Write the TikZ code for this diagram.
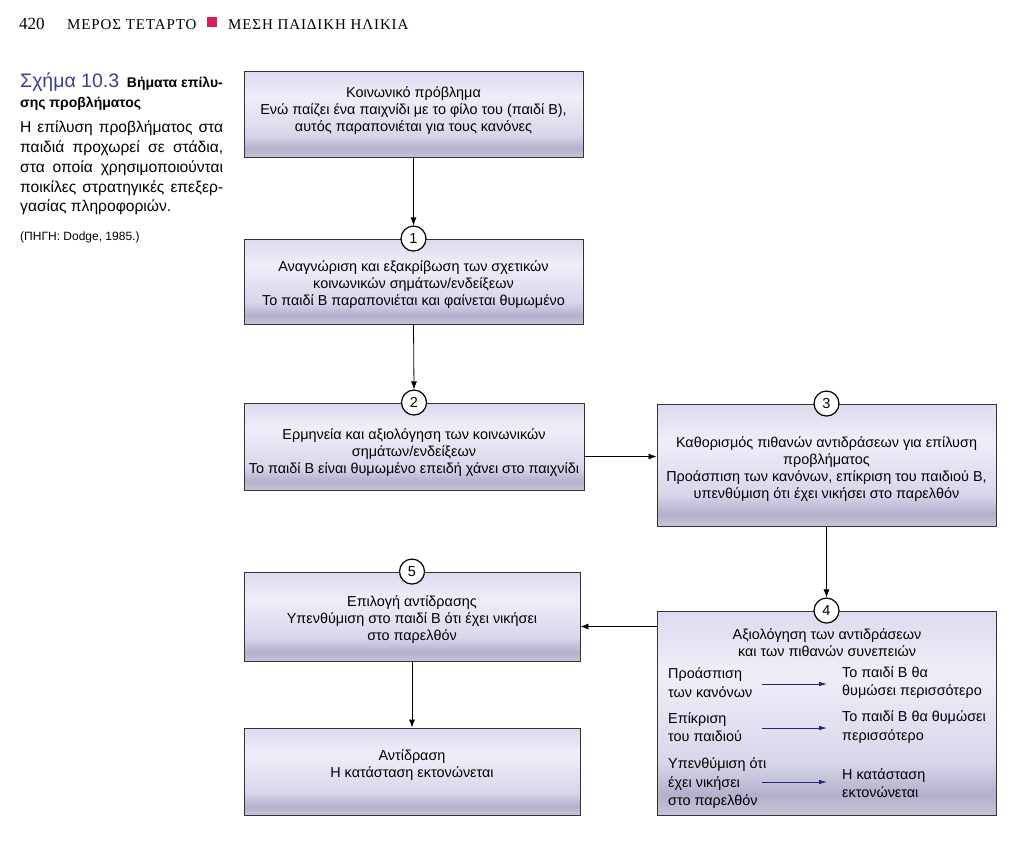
\documentclass[tikz,border=0pt]{standalone}
\usepackage{fontspec}
\setmainfont{Liberation Serif}
\setsansfont{Liberation Sans}
\usetikzlibrary{arrows.meta}

\definecolor{stagetop}{HTML}{DCDAEE}
\definecolor{stagelight}{HTML}{EFEEF8}
\definecolor{stagemid}{HTML}{D8D6EA}
\definecolor{stagedark}{HTML}{B3B0CB}
\definecolor{stagebot}{HTML}{C6C4D8}
\definecolor{figblue}{HTML}{3B3F98}
\definecolor{innerblue}{HTML}{1F2A6E}
\definecolor{headred}{HTML}{D61F5A}

\pgfdeclareverticalshading{stagefill}{100bp}{color(0bp)=(stagebot); color(25bp)=(stagebot);
  color(30bp)=(stagedark); color(38bp)=(stagemid); color(60bp)=(stagelight); color(75bp)=(stagetop); color(100bp)=(stagetop)}

\newcommand\boxfont{\sffamily\fontsize{14.4}{17}\selectfont}
\newcommand\headfont{\fontsize{15}{15}\selectfont\addfontfeatures{LetterSpace=6}}
\newcommand\jline[1]{\hbox to 203pt{#1}}

\tikzset{
  stage/.style={draw=black!80, line width=0.9pt, shading=stagefill, inner sep=0pt},
  stagetext/.style={align=center, inner sep=0pt, font=\boxfont},
  num/.style={circle, draw, line width=1.2pt, fill=white, minimum size=25pt, inner sep=0pt,
    font=\sffamily\fontsize{14.5}{14.5}\selectfont},
  flow/.style={-{Latex[length=8pt,width=6pt]}, line width=0.8pt},
  pick/.style={-{Latex[length=8pt,width=4.5pt]}, line width=0.8pt, innerblue},
  side/.style={anchor=west, align=left, inner sep=3pt, font=\sffamily\fontsize{14.4}{18.5}\selectfont}
}

\begin{document}
\begin{tikzpicture}[x=1pt,y=-1pt]
  % Page
  \useasboundingbox (0,0) rectangle (1024,852);
  \fill[white] (0,0) rectangle (1024,852);

  % Running head
  \node[anchor=base west, inner sep=0pt, font=\fontsize{17}{17}\selectfont] (page) at (19,29) {420};
  \node[anchor=base west, inner sep=0pt, font=\headfont] (part) at (67,29) {ΜΕΡΟΣ ΤΕΤΑΡΤΟ};
  \fill[headred] (207,17) rectangle (217,27);
  \node[anchor=base west, inner sep=0pt, font=\headfont] (chap) at (228,29) {ΜΕΣΗ ΠΑΙΔΙΚΗ ΗΛΙΚΙΑ};

  % Caption
  \node[anchor=base west, inner sep=0pt, align=left, font=\sffamily\fontsize{14}{20}\selectfont\bfseries] (cap) at (20,107)
    {{\color{figblue}\mdseries\fontsize{19.5}{19.5}\selectfont Σχήμα 10.3}\ \ Βήματα επίλυ-\\σης προβλήματος};
  \node[anchor=north west, inner sep=0pt, align=left, font=\sffamily\fontsize{15.6}{19.7}\selectfont] (capbody) at (20,121)
    {\jline{Η επίλυση προβλήματος στα}\\
     \jline{παιδιά προχωρεί σε στάδια,}\\
     \jline{στα οποία χρησιμοποιούνται}\\
     \jline{ποικίλες στρατηγικές επεξερ-}\\
     γασίας πληροφοριών.};
  \node[anchor=base west, inner sep=0pt, font=\sffamily\fontsize{12}{12}\selectfont] (src) at (20,240) {(ΠΗΓΗ: Dodge, 1985.)};

  % Stages
  \node[stage, minimum width=339pt, minimum height=86pt] (b0) at (413.5,114) {};
  \node[stage, minimum width=339pt, minimum height=85pt] (b1) at (413.5,281.5) {};
  \node[stage, minimum width=340pt, minimum height=87pt] (b2) at (414,446.5) {};
  \node[stage, minimum width=339pt, minimum height=122pt] (b3) at (826.5,465) {};
  \node[stage, minimum width=339pt, minimum height=204pt] (b4) at (826.5,713) {};
  \node[stage, minimum width=336pt, minimum height=89pt] (b5) at (412,616.5) {};
  \node[stage, minimum width=336pt, minimum height=87pt] (b6) at (412,771.5) {};

  % Stage texts
  \node[stagetext] (t0) at (413.5,111)
    {Κοινωνικό πρόβλημα\\Ενώ παίζει ένα παιχνίδι με το φίλο του (παιδί Β),\\αυτός παραπονιέται για τους κανόνες};
  \node[stagetext] (t1) at (413.5,285)
    {Αναγνώριση και εξακρίβωση των σχετικών\\κοινωνικών σημάτων/ενδείξεων\\Το παιδί Β παραπονιέται και φαίνεται θυμωμένο};
  \node[stagetext] (t2) at (414,453)
    {Ερμηνεία και αξιολόγηση των κοινωνικών\\σημάτων/ενδείξεων\\Το παιδί Β είναι θυμωμένο επειδή χάνει στο παιχνίδι};
  \node[stagetext] (t3) at (826.5,469)
    {Καθορισμός πιθανών αντιδράσεων για επίλυση\\προβλήματος\\Προάσπιση των κανόνων, επίκριση του παιδιού Β,\\υπενθύμιση ότι έχει νικήσει στο παρελθόν};
  \node[stagetext] (t5) at (412,619.5)
    {Επιλογή αντίδρασης\\Υπενθύμιση στο παιδί Β ότι έχει νικήσει\\στο παρελθόν};
  \node[stagetext] (t6) at (412,765)
    {Αντίδραση\\Η κατάσταση εκτονώνεται};

  % Inside stage 4
  \node[stagetext] (t4) at (827,643) {Αξιολόγηση των αντιδράσεων\\και των πιθανών συνεπειών};
  \node[side] (l1) at (665,682.5) {Προάσπιση\\των κανόνων};
  \node[side] (l2) at (665,727) {Επίκριση\\του παιδιού};
  \node[side] (l3) at (665,783.5) {Υπενθύμιση ότι\\έχει νικήσει\\στο παρελθόν};
  \node[side] (r1) at (839,682.5) {Το παιδί Β θα\\θυμώσει περισσότερο};
  \node[side] (r2) at (839,727) {Το παιδί Β θα θυμώσει\\περισσότερο};
  \node[side] (r3) at (839,783) {Η κατάσταση\\εκτονώνεται};
  \coordinate (a1) at (762,684);
  \coordinate (a2) at (762,728);
  \coordinate (a3) at (762,782);
  \draw[pick, shorten >=12pt] (a1) -- (a1 -| r1.west);
  \draw[pick, shorten >=12pt] (a2) -- (a2 -| r2.west);
  \draw[pick, shorten >=12pt] (a3) -- (a3 -| r3.west);

  % Step numbers
  \node[num] (n1) at (b1.north) {1};
  \node[num] (n2) at (b2.north) {2};
  \node[num] (n3) at (b3.north) {3};
  \node[num] (n4) at (b4.north) {4};
  \node[num] (n5) at (b5.north) {5};

  % Arrows
  \draw[flow] (b0.south) -- (n1.north);
  \draw[flow] (b1.south) -- (n2.north);
  \draw[flow] ([yshift=-10pt]b2.east) -- ([yshift=-10pt]b2.east -| b3.west);
  \draw[flow] (b3.south) -- (n4.north);
  \draw[flow] ([yshift=-10pt]b5.east -| b4.west) -- ([yshift=-10pt]b5.east);
  \draw[flow] (b5.south) -- (b6.north);
\end{tikzpicture}
\end{document}
